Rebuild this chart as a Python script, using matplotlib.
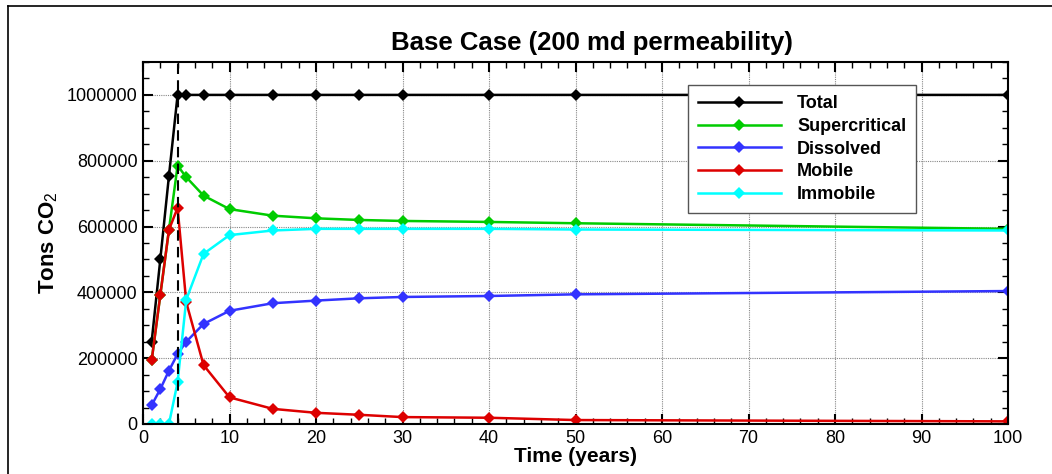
import matplotlib
matplotlib.use("Agg")
import matplotlib.pyplot as plt
from matplotlib.lines import Line2D
from matplotlib.ticker import MultipleLocator, FuncFormatter

plt.rcParams['font.family'] = ['Liberation Sans', 'DejaVu Sans']
plt.rcParams['mathtext.fontset'] = 'custom'
plt.rcParams['mathtext.rm'] = 'Liberation Sans'

years = [1, 2, 3, 4, 5, 7, 10, 15, 20, 25, 30, 40, 50, 100]
total = [250000, 500000, 754000, 1000000, 1000000, 1000000, 1000000, 1000000,
         1000000, 1000000, 1000000, 1000000, 1000000, 1000000]
supercritical = [193000, 392000, 590000, 785000, 750000, 694000, 653000, 633000,
                 625000, 620000, 617000, 614000, 610000, 593000]
dissolved = [57000, 106000, 162000, 213000, 250000, 304000, 344000, 367000,
             375000, 382000, 386000, 389000, 394000, 404000]
mobile = [193000, 392000, 590000, 657000, 370000, 179000, 81000, 46000,
          34000, 28000, 21000, 19000, 12000, 8000]
immobile = [0, 0, 0, 127000, 378000, 517000, 574000, 588000,
            593000, 593000, 593000, 593000, 591000, 588000]

series = [
    ("Total", total, "#000000"),
    ("Supercritical", supercritical, "#00cc00"),
    ("Dissolved", dissolved, "#3333ff"),
    ("Mobile", mobile, "#dd0000"),
    ("Immobile", immobile, "#00ffff"),
]
injection_end = 4

fig = plt.figure(figsize=(10.52, 4.74), dpi=100)
ax = fig.add_axes([143/1052, 50/474, 865/1052, 362/474])

for name, vals, col in series:
    ax.plot(years, vals, color=col, lw=1.8, marker='D', ms=6.5, label=name,
            markeredgewidth=0)

ax.axvline(injection_end, color='black', lw=1.5, ls=(0, (5, 3)), zorder=5)

ax.set_xlim(0, 100)
ax.set_ylim(0, 1100000)
ax.xaxis.set_major_locator(MultipleLocator(10))
ax.xaxis.set_minor_locator(MultipleLocator(2))
ax.yaxis.set_major_locator(MultipleLocator(200000))
ax.yaxis.set_minor_locator(MultipleLocator(50000))
ax.yaxis.set_major_formatter(FuncFormatter(lambda v, p: f"{int(round(v))}"))
ax.tick_params(which='both', direction='in', top=True, right=True)
ax.tick_params(which='major', length=7, width=1.5, labelsize=13, pad=4)
ax.tick_params(which='minor', length=4, width=1)
ax.grid(True, which='major', color='#888888', ls=(0, (1, 1)), lw=0.8)
for s in ax.spines.values():
    s.set_linewidth(1.5)

ax.set_xlabel("Time (years)", fontsize=15, fontweight='bold', labelpad=0)
ax.set_ylabel("Tons CO$_2$", fontsize=16, fontweight='bold', labelpad=5)
fig.text(592/1052, 1 - 43/474, "Base Case (200 md permeability)", ha='center',
         va='center', fontsize=18.5, fontweight='bold')

leg = ax.legend(loc='upper left', bbox_to_anchor=(0.630, 0.936), fancybox=False,
                edgecolor='#555555', framealpha=1, handlelength=4.6,
                prop={'weight': 'bold', 'size': 13}, labelspacing=0.32,
                borderpad=0.55, handletextpad=0.9, borderaxespad=0)
leg.get_frame().set_linewidth(1.0)

fig.add_artist(Line2D([8/1052, 8/1052], [0, 1 - 6/474], color='black', lw=1.2,
                      transform=fig.transFigure))
fig.add_artist(Line2D([8/1052, 1], [1 - 6/474, 1 - 6/474], color='black', lw=1.2,
                      transform=fig.transFigure))

fig.savefig("out.png", dpi=100)
